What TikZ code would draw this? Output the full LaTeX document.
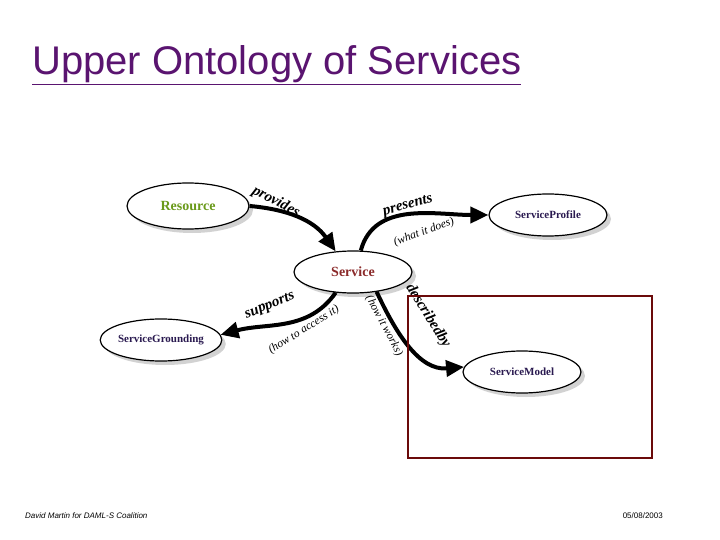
\documentclass[tikz,border=0pt]{standalone}
\usepackage{fontspec}
\setmainfont{Liberation Serif}
\newfontfamily\arial{Liberation Sans}
\usetikzlibrary{shapes.geometric,shadows,arrows.meta}
\definecolor{ttl}{HTML}{5A1470}
\definecolor{resg}{HTML}{6A9A1A}
\definecolor{servr}{HTML}{8B2A2A}
\definecolor{navy}{HTML}{2A1A50}
\definecolor{boxr}{HTML}{6B0A0A}
\tikzset{
 onto/.style={ellipse,draw,line width=1.2pt,fill=white,minimum width=118pt,minimum height=42pt,inner sep=0pt,
   drop shadow={shadow xshift=4pt,shadow yshift=-4pt,opacity=0.35},font=\bfseries\fontsize{14}{16}\selectfont},
 small/.style={font=\bfseries\fontsize{11}{13}\selectfont},
 rel/.style={line width=4pt,-{Triangle[length=18pt,width=16pt]}},
 lab/.style={font=\itshape\bfseries\fontsize{15}{17}\selectfont,inner sep=0pt},
 sub/.style={font=\itshape\fontsize{11.5}{13}\selectfont,inner sep=0pt}
}
\begin{document}
\begin{tikzpicture}[x=1pt,y=-1pt]
\useasboundingbox[fill=white] (0,0) rectangle (720,540);
\node[anchor=west,text=ttl,font=\arial\fontsize{40}{44}\selectfont,inner sep=0pt] (title) at (32,65) {\underline{Upper Ontology of Services}};
\node[onto,text=resg,minimum width=122pt,minimum height=46pt] (res) at (188,206) {Resource};
\node[onto,text=servr] (serv) at (353,272) {Service};
\node[onto,text=navy,small] (prof) at (548,215) {ServiceProfile};
\node[onto,text=navy,small] (grd) at (161,340) {ServiceGrounding};
\node[onto,text=navy,small] (mod) at (522,372) {ServiceModel};
\draw[rel] (res.east) to[out=-5,in=125] (serv.130);
\draw[rel] (serv.70) to[out=75,in=180] (prof.west);
\draw[rel] (serv.230) to[out=235,in=15] (grd.5);
\draw[rel] (serv.-40) to[out=-65,in=185] (mod.175);
\node[lab,rotate=-28] (l1) at (276,202) {provides};
\node[lab,rotate=15] (l2) at (408,206) {presents};
\node[sub,rotate=20] (s2) at (424,232) {(what it does)};
\node[lab,rotate=22] (l3) at (270,306) {supports};
\node[sub,rotate=32] (s3) at (304,330) {(how to access it)};
\node[lab,rotate=-58] (l4) at (428,316) {describedby};
\node[sub,rotate=-62] (s4) at (384,326) {(how it works)};
\draw[boxr,line width=2pt] (408,296) rectangle (652,458);
\node[anchor=west,font=\arial\itshape\fontsize{8}{10}\selectfont,inner sep=0pt] (f1) at (25,516) {David Martin for DAML-S Coalition};
\node[anchor=east,font=\arial\fontsize{8}{10}\selectfont,inner sep=0pt] (f2) at (663,516) {05/08/2003};
\end{tikzpicture}
\end{document}
